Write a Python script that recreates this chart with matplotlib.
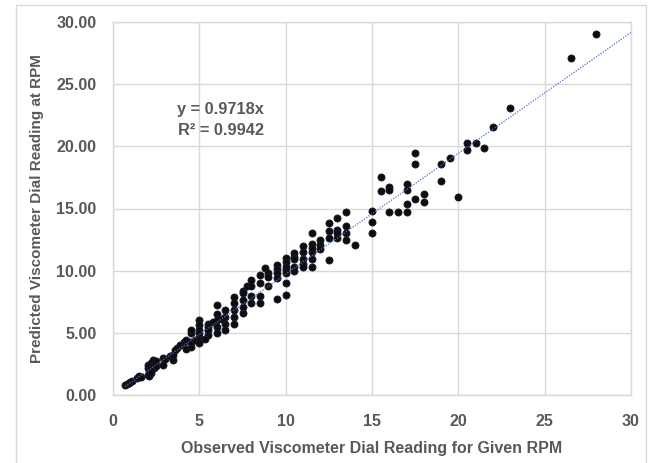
import numpy as np
import matplotlib.pyplot as plt
from matplotlib.patches import Rectangle

plt.rcParams['font.family'] = ['Liberation Sans', 'DejaVu Sans']

# observed vs predicted dial readings
observed = [
    0.7, 0.8, 0.9, 1.0, 1.1, 1.4, 1.5, 1.6,
    2.0, 2.1, 2.0, 2.0, 2.1, 2.2, 2.3, 2.4, 2.5, 2.5, 2.2,
    2.9, 2.9, 3.0, 3.3, 3.5, 3.5, 3.6, 3.7, 3.9, 4.1, 4.2, 4.2, 4.5, 4.5, 4.5, 4.5, 4.75,
    5.0, 5.0, 5.0, 5.0, 5.0, 5.0,
    5.5, 5.5, 5.5, 5.5, 5.3,
    6.0, 6.0, 6.0, 6.0, 6.0, 5.8,
    6.5, 6.5, 6.5, 6.5, 6.3,
    7.0, 7.0, 7.0, 7.0, 7.0,
    7.5, 7.5, 7.5, 7.5, 7.5, 7.75,
    8.0, 8.0, 8.0, 8.0,
    8.5, 8.5, 8.5, 8.5, 8.8,
    9.0, 9.0, 9.0,
    9.5, 9.5, 9.5, 9.5, 9.5,
    10.0, 10.0, 10.0, 10.0, 10.0, 10.0, 10.0,
    10.5, 10.5, 10.5, 10.5, 10.5,
    11.0, 11.0, 11.0, 11.0, 11.0,
    11.5, 11.5, 11.5, 11.5, 11.5, 11.5,
    12.0, 12.0, 12.0,
    12.5, 12.5, 12.5, 12.5,
    13.0, 13.0, 13.0, 13.0,
    13.5, 13.5, 13.5, 13.5, 14.0,
    15.0, 15.0, 15.0, 15.5, 15.5,
    16.0, 16.0, 16.0, 16.5,
    17.0, 17.0, 17.0, 17.0, 17.5, 17.5, 17.5, 18.0, 18.0,
    19.0, 19.0, 19.5, 20.0, 20.5, 20.5, 21.0, 21.5, 22.0, 23.0, 26.5, 28.0,
]
predicted = [
    0.8, 0.9, 1.0, 1.05, 1.15, 1.35, 1.5, 1.45,
    1.6, 1.5, 2.2, 2.4, 2.0, 2.6, 2.8, 2.2, 2.7, 2.3, 1.8,
    2.95, 2.4, 2.9, 3.1, 2.85, 3.2, 3.6, 3.75, 4.0, 4.3, 4.4, 3.7, 3.9, 4.3, 4.96, 5.2, 4.4,
    6.0, 5.65, 5.25, 4.7, 4.2, 5.0,
    5.75, 5.5, 4.85, 5.2, 4.5,
    7.25, 6.55, 6.0, 4.95, 5.5, 5.9,
    6.85, 6.3, 5.75, 5.25, 6.1,
    7.9, 7.4, 6.85, 6.3, 5.75,
    8.4, 7.65, 7.1, 6.6, 8.2, 8.8,
    9.25, 8.75, 7.95, 7.4,
    9.65, 9.0, 7.95, 7.4, 10.25,
    9.8, 9.5, 8.8,
    10.45, 10.1, 9.8, 9.45, 7.7,
    11.0, 10.7, 10.3, 10.05, 9.0, 8.05, 9.8,
    11.45, 11.1, 10.9, 10.3, 9.95,
    12.0, 11.5, 10.95, 10.55, 10.3,
    13.05, 12.15, 11.5, 10.95, 10.3, 11.8,
    12.5, 12.1, 11.75,
    13.85, 13.2, 12.65, 10.85,
    14.2, 13.3, 13.0, 12.65,
    14.7, 13.6, 13.05, 12.5, 12.1,
    14.8, 13.9, 13.0, 17.5, 16.4,
    16.7, 16.45, 14.7, 14.7,
    16.95, 16.5, 15.35, 14.75, 19.5, 18.55, 15.75, 16.2, 15.55,
    18.55, 17.25, 19.05, 15.95, 20.3, 19.7, 20.3, 19.85, 21.55, 23.1, 27.1, 29.0,
]
slope = 0.9718
r2 = 0.9942

x_ticks = [0, 5, 10, 15, 20, 25, 30]
y_ticks = [0, 5, 10, 15, 20, 25, 30]

grey = '#595959'
grid_c = '#D9D9D9'

fig = plt.figure(figsize=(6.56, 4.63), dpi=100)
ax = fig.add_axes([113 / 656, 1 - 395 / 463, 518 / 656, 373 / 463])

# chart outer border (bottom edge runs off the image)
fig.patches.append(Rectangle((16 / 656, -10 / 463), 630 / 656, 468 / 463,
                             transform=fig.transFigure, fill=False,
                             edgecolor=grid_c, linewidth=1))

ax.scatter(observed, predicted, s=26, c='#0D0D0D', edgecolors='#1a1a2e',
           linewidths=0.6, zorder=3)

# trendline through origin
xt = np.array([min(observed), 30])
ax.plot(xt, slope * xt, color='#4472C4', linestyle=(0, (1, 1.2)),
        linewidth=0.9, zorder=4)

ax.set_xlim(0, 30)
ax.set_ylim(0, 30)
ax.set_xticks(x_ticks)
ax.set_yticks(y_ticks)
ax.set_xticklabels([str(t) for t in x_ticks], fontweight='bold')
ax.set_yticklabels(['%.2f' % t for t in y_ticks], fontweight='bold')
ax.tick_params(length=0, labelsize=11.5, labelcolor=grey)
ax.tick_params(axis='x', pad=14)
ax.tick_params(axis='y', pad=12)

ax.grid(True, color=grid_c, linewidth=1)
ax.set_axisbelow(True)
for sp in ax.spines.values():
    sp.set_color(grid_c)
    sp.set_linewidth(1)

ax.set_xlabel('Observed Viscometer Dial Reading for Given RPM', fontsize=11.5,
              fontweight='bold', color=grey, labelpad=8)
ax.set_ylabel('Predicted Viscometer Dial Reading at RPM', fontsize=11,
              fontweight='bold', color=grey, labelpad=9)

ax.text(3.73, 23.0, 'y = %.4fx' % slope, fontsize=11.8, fontweight='bold',
        color=grey, va='center', ha='left')
ax.text(3.76, 21.25, 'R² = %.4f' % r2, fontsize=11.8, fontweight='bold',
        color=grey, va='center', ha='left')

fig.savefig('out.png', dpi=100)
